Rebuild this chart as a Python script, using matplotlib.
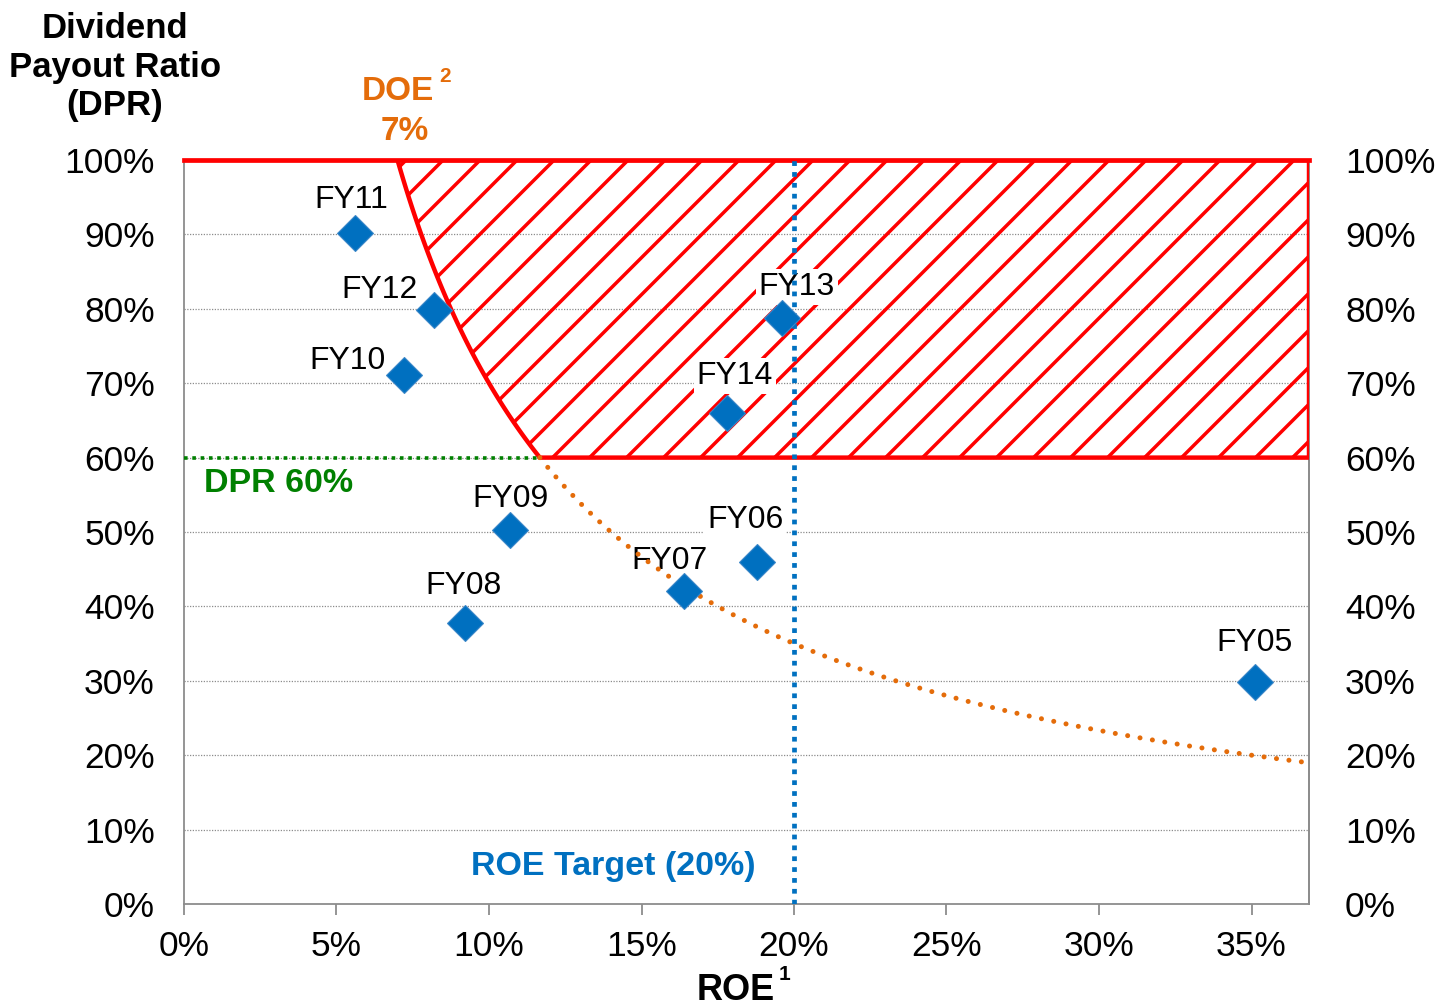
import numpy as np
import matplotlib as mpl
import matplotlib.pyplot as plt
from matplotlib.patches import Polygon
from matplotlib.ticker import PercentFormatter

mpl.use('Agg')
plt.rcParams['font.family'] = ['Liberation Sans', 'DejaVu Sans']

# fiscal years: ROE vs dividend payout ratio
years = ['FY05', 'FY06', 'FY07', 'FY08', 'FY09', 'FY10', 'FY11', 'FY12', 'FY13', 'FY14']
roe = [0.351, 0.188, 0.164, 0.092, 0.107, 0.072, 0.056, 0.082, 0.196, 0.178]
dpr = [0.298, 0.460, 0.421, 0.378, 0.503, 0.711, 0.902, 0.798, 0.788, 0.660]

doe = 0.07          # dividend on equity policy line
dpr_floor = 0.60    # payout floor
roe_target = 0.20

# label offsets in pixels (dx, dy) from each diamond
label_off = {
    'FY05': (0, 39), 'FY06': (-12, 42), 'FY07': (-15, 30), 'FY08': (-1, 37),
    'FY09': (0, 31), 'FY10': (-56, 14), 'FY11': (-3, 33), 'FY12': (-55, 20),
    'FY13': (15, 31), 'FY14': (8, 37),
}

W, H = 1441, 1007
fig = plt.figure(figsize=(W / 100, H / 100), dpi=100)
left, right, top, bottom = 184, 1309, 160, 904
ax = fig.add_axes([left / W, 1 - bottom / H, (right - left) / W, (bottom - top) / H])

xmax = (right - left) / 30.5 / 100
ax.set_xlim(0, xmax)
ax.set_ylim(0, 1.0)

# grid and axes
yt = np.arange(0, 1.01, 0.1)
ax.set_yticks(yt)
ax.set_xticks(np.arange(0, 0.36, 0.05))
ax.yaxis.set_major_formatter(PercentFormatter(1.0, decimals=0))
ax.xaxis.set_major_formatter(PercentFormatter(1.0, decimals=0))
for y in np.arange(0.1, 1.0, 0.1):
    ax.axhline(y, color='#8c8c8c', lw=0.9, ls=(0, (1, 1.2)), zorder=1)
for s in ['left', 'bottom', 'right']:
    ax.spines[s].set_color('#8c8c8c')
    ax.spines[s].set_linewidth(1.3)
ax.spines['top'].set_visible(False)
ax.tick_params(axis='x', direction='out', length=8, width=1.3, color='#8c8c8c',
               labelsize=25.5, pad=11)
ax.tick_params(axis='y', length=0, labelsize=25.5, pad=21)

# same percentages repeated on the right
ax2 = ax.twinx()
ax2.set_ylim(0, 1.0)
ax2.set_yticks(yt)
ax2.yaxis.set_major_formatter(PercentFormatter(1.0, decimals=0))
ax2.tick_params(axis='y', length=0, labelsize=25.5, pad=26)
for s in ['left', 'top', 'bottom']:
    ax2.spines[s].set_visible(False)
ax2.spines['right'].set_color('#8c8c8c')
ax2.spines['right'].set_linewidth(1.3)
ax2.set_zorder(-1)
ax.set_zorder(1)
ax.patch.set_visible(False)

# DOE curve: DPR = DOE / ROE
x_hi = doe / dpr_floor
xc = np.linspace(x_hi, xmax, 200)
ax.plot(xc, doe / xc, color='#E46C0A', lw=3.6, ls=(0, (0.01, 2.5)),
        dash_capstyle='round', zorder=6)

# shaded target zone
xcurve = np.linspace(doe, x_hi, 80)
verts = [(doe, 1.0), (xmax, 1.0), (xmax, dpr_floor), (x_hi, dpr_floor)]
verts += list(zip(xcurve[::-1], doe / xcurve[::-1]))
zone = Polygon(verts, closed=True, fill=False, edgecolor='#FF0000', lw=3.2, zorder=3)
ax.add_patch(zone)
ax.plot([0, xmax], [1.0, 1.0], color='#FF0000', lw=3.4, zorder=3, clip_on=False)

# diagonal hatch lines clipped to the zone
px_x = (right - left) / xmax
px_y = (bottom - top) / 1.0
r = px_x / px_y
step = 37 / px_x
c0 = 0.0971 - 0.4 / r
starts = np.arange(c0 - 40 * step, xmax + step, step)
for c in starts:
    if c + 0.4 / r < doe:
        continue
    ln, = ax.plot([c, c + 0.4 / r], [dpr_floor, 1.0], color='#FF0000', lw=2.5, zorder=2)
    ln.set_clip_path(zone)

# DPR 60% floor and ROE target lines
ax.plot([0, x_hi], [dpr_floor, dpr_floor], color='#008000', lw=2.6,
        ls=(0, (1, 1.3)), zorder=4)
ax.plot([roe_target, roe_target], [0, 1.0], color='#0070C0', lw=3.4,
        ls=(0, (1, 1.3)), zorder=7)

# data points
ax.plot(roe, dpr, 'D', ms=18.5, color='#0070C0', mec='#3b86c8', mew=0.8, zorder=8,
        clip_on=False)
for name, x, y in zip(years, roe, dpr):
    dx, dy = label_off[name]
    ax.annotate(name, (x, y), xytext=(dx, dy), textcoords='offset pixels',
                ha='center', va='center', fontsize=23, zorder=5,
                bbox=dict(facecolor='white', edgecolor='none', pad=2))

def ftext(x, y, s, **kw):
    fig.text(x / W, 1 - y / H, s, **kw)

ftext(115, 67, 'Dividend\nPayout Ratio\n(DPR)', ha='center', va='center',
      fontsize=25, fontweight='bold', linespacing=1.22)
ftext(398, 92, 'DOE', ha='center', va='center', fontsize=24, fontweight='bold',
      color='#E46C0A')
ftext(445, 77, '2', ha='center', va='center', fontsize=15, fontweight='bold',
      color='#E46C0A')
ftext(405, 132, '7%', ha='center', va='center', fontsize=24, fontweight='bold',
      color='#E46C0A')
ftext(279, 483, 'DPR 60%', ha='center', va='center', fontsize=24.5, fontweight='bold',
      color='#008000')
ftext(613, 866, 'ROE Target (20%)', ha='center', va='center', fontsize=24.5,
      fontweight='bold', color='#0070C0')
ftext(736, 991, 'ROE', ha='center', va='center', fontsize=26, fontweight='bold')
ftext(785, 975, '1', ha='center', va='center', fontsize=15, fontweight='bold')

fig.savefig('out.png', dpi=100)
